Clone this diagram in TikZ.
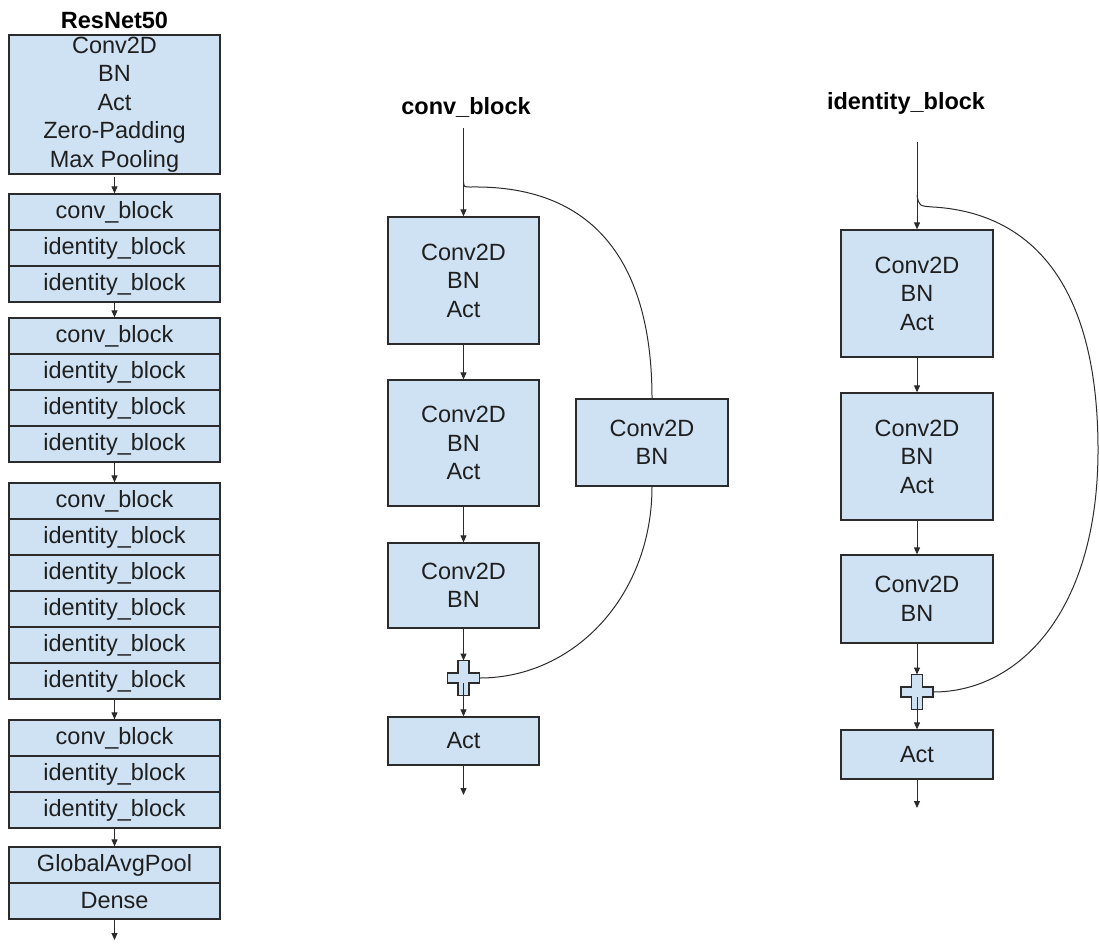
\documentclass[tikz,border=0pt]{standalone}
\usepackage{fontspec}
\setmainfont{Liberation Sans}
\usepackage{tikz}
\usetikzlibrary{arrows.meta}

\definecolor{boxc}{HTML}{CFE2F3}
\definecolor{linec}{HTML}{2B2B2B}
\definecolor{txtc}{HTML}{1F1F1F}
\newcommand\boxfont{\fontsize{23.5}{28.5}\selectfont}

\begin{document}
\begin{tikzpicture}[x=1pt, y=-1pt,
    >={Triangle[length=7pt,width=6pt]},
    layer/.style={draw=linec, fill=boxc, line width=1.3pt, inner sep=0pt, text=txtc, font=\boxfont, align=center},
    row/.style={layer, minimum width=211pt, minimum height=36pt},
    unit/.style={layer, minimum width=151pt},
    title/.style={font=\boxfont\bfseries, text=black},
    wire/.style={draw=linec, line width=1pt},
    sum/.pic={
        \draw[draw=linec, fill=boxc, line width=1.3pt]
            (-5.5,-17.5) -- (5.5,-17.5) -- (5.5,-5) -- (16,-5) -- (16,5) -- (5.5,5)
            -- (5.5,17.5) -- (-5.5,17.5) -- (-5.5,5) -- (-16,5) -- (-16,-5) -- (-5.5,-5) -- cycle;
        \coordinate (-n) at (0,-17.5);
        \coordinate (-e) at (16,0);
        \coordinate (-o) at (0,5);
    }]
    \useasboundingbox (0,0) rectangle (1099,943);

    \node[title] (rntitle) at (114.5,20) {ResNet50};
    \node[row, minimum height=139pt] (stem) at (114.5,104.5) {Conv2D\\BN\\Act\\Zero-Padding\\Max Pooling};

    \node[row] (s1a) at (114.5,212) {conv\_block};
    \node[row] (s1b) at (114.5,248) {identity\_block};
    \node[row] (s1c) at (114.5,284) {identity\_block};

    \node[row] (s2a) at (114.5,336) {conv\_block};
    \node[row] (s2b) at (114.5,372) {identity\_block};
    \node[row] (s2c) at (114.5,408) {identity\_block};
    \node[row] (s2d) at (114.5,444) {identity\_block};

    \node[row] (s3a) at (114.5,501) {conv\_block};
    \node[row] (s3b) at (114.5,537) {identity\_block};
    \node[row] (s3c) at (114.5,573) {identity\_block};
    \node[row] (s3d) at (114.5,609) {identity\_block};
    \node[row] (s3e) at (114.5,645) {identity\_block};
    \node[row] (s3f) at (114.5,681) {identity\_block};

    \node[row] (s4a) at (114.5,738) {conv\_block};
    \node[row] (s4b) at (114.5,774) {identity\_block};
    \node[row] (s4c) at (114.5,810) {identity\_block};

    \node[row] (pool) at (114.5,865) {GlobalAvgPool};
    \node[row] (dense) at (114.5,901) {Dense};
    \coordinate (rnout) at (114.5,940);

    \draw[wire, ->] (stem.south) ++(0,2) -- (s1a.north);
    \draw[wire, ->] (s1c) -- (s2a);
    \draw[wire, ->] (s2d) -- (s3a);
    \draw[wire, ->] (s3f) -- (s4a);
    \draw[wire, ->] (s4c) -- (pool);
    \draw[wire, ->] (dense.south) -- (rnout);

    \node[title] (cbtitle) at (466,107) {conv\_block};
    \coordinate (cbin) at (463.5,128);
    \coordinate (cbsplit) at (463.5,182);
    \node[unit, minimum height=127pt] (cbA) at (463.5,280.5) {Conv2D\\BN\\Act};
    \node[unit, minimum height=126pt] (cbB) at (463.5,443) {Conv2D\\BN\\Act};
    \node[unit, minimum height=85pt] (cbC) at (463.5,585.5) {Conv2D\\BN};
    \node[unit, minimum width=152pt, minimum height=87pt] (cbS) at (652,442.5) {Conv2D\\BN};
    \pic (cbsum) at (463.5,678) {sum};
    \node[unit, minimum height=48pt] (cbAct) at (463.5,741) {Act};
    \coordinate (cbout) at (463.5,795);

    \draw[wire, ->] (cbin) -- (cbA);
    \draw[wire, ->] (cbA) -- (cbB);
    \draw[wire, ->] (cbB) -- (cbC);
    \draw[wire, ->] (cbC.south) -- (cbsum-n);
    \draw[wire, ->] (cbsum-o) -- (cbAct.north);
    \draw[wire, ->] (cbAct.south) -- (cbout);
    \draw[wire] (cbsplit) .. controls (464,187) .. (471,187) .. controls (600,185) and (652,270) .. (cbS.north);
    \draw[wire] (cbS.south) .. controls (652,595) and (575,678) .. (cbsum-e);

    \node[title] (idtitle) at (906,103) {identity\_block};
    \coordinate (idin) at (917,142);
    \coordinate (idsplit) at (917,195);
    \node[unit, minimum width=152pt, minimum height=127pt] (idA) at (917,293.5) {Conv2D\\BN\\Act};
    \node[unit, minimum width=152pt, minimum height=127pt] (idB) at (917,456.5) {Conv2D\\BN\\Act};
    \node[unit, minimum width=152pt, minimum height=88pt] (idC) at (917,599) {Conv2D\\BN};
    \pic (idsum) at (917,692) {sum};
    \node[unit, minimum width=152pt, minimum height=49pt] (idAct) at (917,754.5) {Act};
    \coordinate (idout) at (917,808);

    \draw[wire, ->] (idin) -- (idA);
    \draw[wire, ->] (idA) -- (idB);
    \draw[wire, ->] (idB) -- (idC);
    \draw[wire, ->] (idC.south) -- (idsum-n);
    \draw[wire, ->] (idsum-o) -- (idAct.north);
    \draw[wire, ->] (idAct.south) -- (idout);
    \draw[wire] (idsplit) .. controls (919,206) .. (933,207) .. controls (1020,212) and (1098,270) .. (1098,450)
        .. controls (1098,610) and (1020,692) .. (idsum-e);
\end{tikzpicture}
\end{document}
